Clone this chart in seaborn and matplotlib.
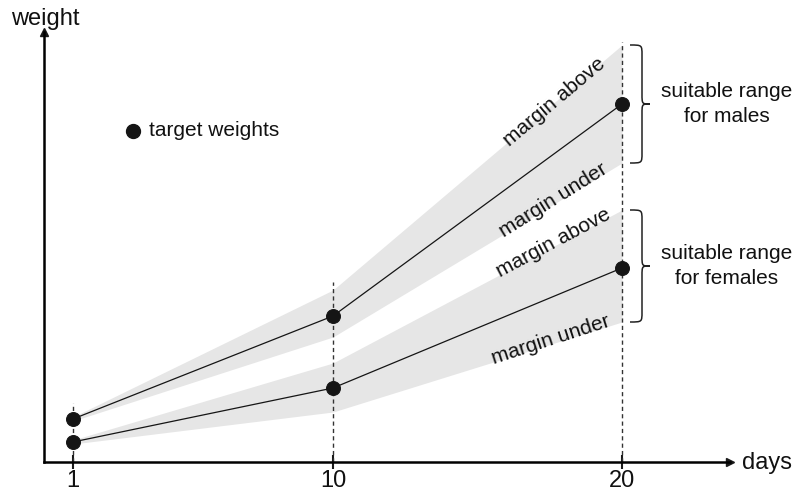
import matplotlib.pyplot as plt
import seaborn as sns
import pandas as pd
from matplotlib.path import Path
from matplotlib.patches import PathPatch

# values (arbitrary weight units)
days = [1, 10, 20]
male_mid = [43, 146, 358]
male_upper = [45, 172, 417]
male_lower = [41, 125, 299]
female_mid = [20, 74, 194]
female_upper = [22, 99, 252]
female_lower = [18, 50, 140]
dash_top = [59, 180, 420]
tick_labels = ["1", "10", "20"]

sns.set_theme(style="white")
plt.rcParams["font.family"] = ["Liberation Sans", "DejaVu Sans"]

df = pd.DataFrame({
    "day": days * 2,
    "weight": male_mid + female_mid,
    "sex": ["male"] * 3 + ["female"] * 3,
})

fig = plt.figure(figsize=(7.98, 4.95), dpi=100)
ax = fig.add_axes([44 / 798, 33 / 495, 686 / 798, 430 / 495])
xpx = 28.9  # pixels per day
ax.set_xlim(0, 686 / xpx)
ax.set_ylim(0, 430)

# grey margin bands
ax.fill_between(days, male_lower, male_upper, color="#e6e6e6", lw=0, zorder=1)
ax.fill_between(days, female_lower, female_upper, color="#e6e6e6", lw=0, zorder=1)

# dashed guides
ax.vlines(days, 0, dash_top, colors="#333333", linestyles=(0, (3, 2.3)), lw=1, zorder=2)

# target weight lines
sns.lineplot(data=df, x="day", y="weight", units="sex", estimator=None,
             color="#151515", lw=0.9, marker="o", markersize=10,
             markeredgecolor="#151515", ax=ax, zorder=3, legend=False)

# axes with arrows
for s in ["top", "right"]:
    ax.spines[s].set_visible(False)
for s in ["left", "bottom"]:
    ax.spines[s].set_color("black")
    ax.spines[s].set_linewidth(1.8)
ax.plot(1, 0, marker=">", color="k", ms=6, transform=ax.transAxes, clip_on=False)
ax.plot(0, 1, marker="^", color="k", ms=6, transform=ax.transAxes, clip_on=False)
ax.set_xticks(days)
ax.set_xticklabels(tick_labels)
ax.set_yticks([])
ax.tick_params(axis="x", bottom=True, direction="inout", length=10, width=1.5,
               color="k", labelsize=17, pad=1, labelcolor="#111111")
ax.set_xlabel("")
ax.set_ylabel("")

ax.text(1 / xpx, 437, "weight", fontsize=17, ha="center", va="baseline", color="#111111")
ax.text(698 / xpx, -1, "days", fontsize=17, ha="left", va="center", color="#111111")

# legend-like marker
ax.plot(89 / xpx, 331, "o", color="#151515", ms=10)
ax.text(105 / xpx, 331, "target weights", fontsize=15, va="center", color="#111111")

# rotated margin labels
lab = dict(fontsize=15, ha="center", va="center", rotation_mode="anchor", color="#111111")
ax.text(510 / xpx, 360, "margin above", rotation=40, **lab)
ax.text(509 / xpx, 262, "margin under", rotation=32, **lab)
ax.text(509 / xpx, 219, "margin above", rotation=28, **lab)
ax.text(507 / xpx, 122, "margin under", rotation=18, **lab)


def brace(top, bot):
    x0 = 586 / xpx
    xs = 598 / xpx
    xt = 606 / xpx
    mid = (top + bot) / 2
    r = 10
    verts = [(x0, top), (xs, top), (xs, top), (xs, top - r),
             (xs, mid + r), (xs, mid), (xs, mid), (xt, mid),
             (xs, mid), (xs, mid), (xs, mid - r),
             (xs, bot + r), (xs, bot), (xs, bot), (x0, bot)]
    codes = [Path.MOVETO, Path.CURVE4, Path.CURVE4, Path.CURVE4,
             Path.LINETO, Path.CURVE4, Path.CURVE4, Path.CURVE4,
             Path.CURVE4, Path.CURVE4, Path.CURVE4,
             Path.LINETO, Path.CURVE4, Path.CURVE4, Path.CURVE4]
    ax.add_patch(PathPatch(Path(verts, codes), fc="none", ec="#222222",
                           lw=1.1, clip_on=False))
    return mid


m = brace(male_upper[-1], male_lower[-1])
ax.text(683 / xpx, m, "suitable range\nfor males", fontsize=15, ha="center",
        va="center", linespacing=1.4, color="#111111")
f = brace(female_upper[-1], female_lower[-1])
ax.text(683 / xpx, f, "suitable range\nfor females", fontsize=15, ha="center",
        va="center", linespacing=1.4, color="#111111")

fig.savefig("out.png", dpi=100)
